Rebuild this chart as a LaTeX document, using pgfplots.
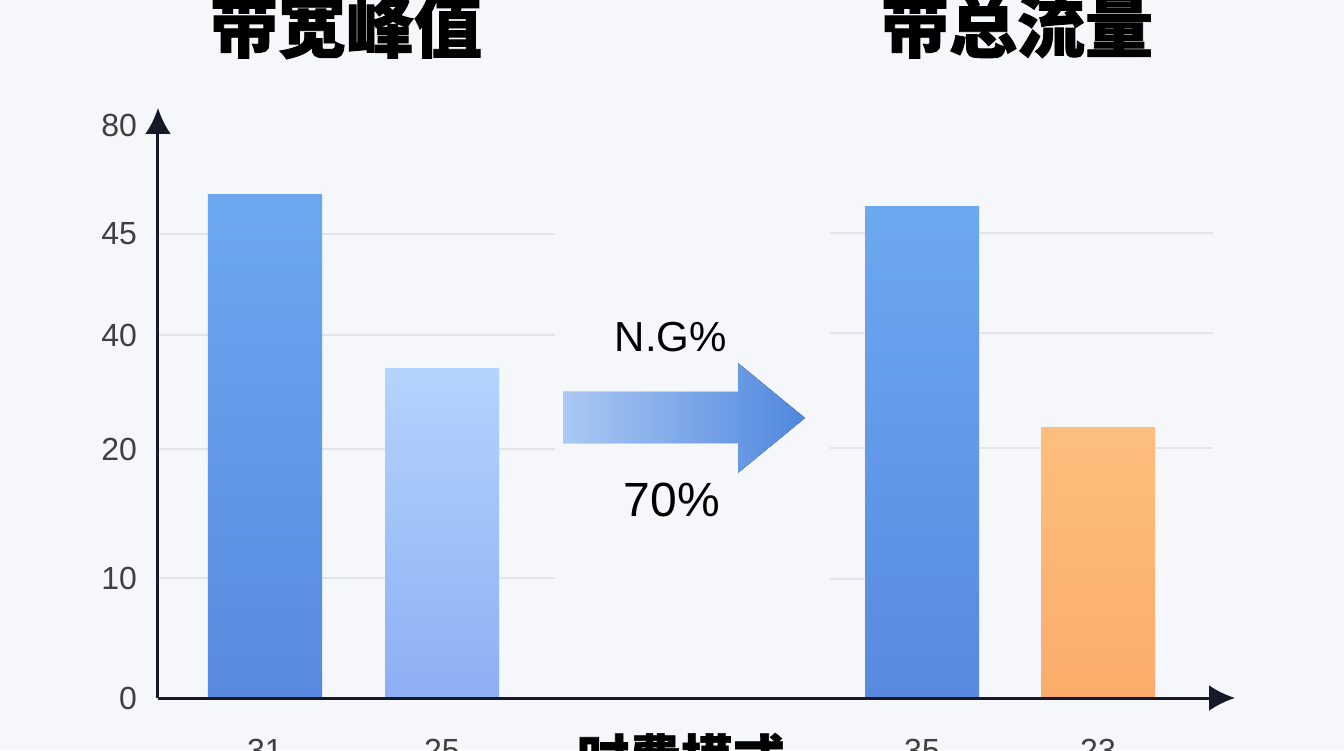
\documentclass[border=0pt]{standalone}
\usepackage{pgfplots}
\pgfplotsset{compat=1.18}
\usepackage{fontspec}
\setmainfont{Liberation Sans}
\newfontfamily\cjk[FakeBold=1.3]{Noto Sans CJK SC}
\usetikzlibrary{arrows.meta}
\pgfdeclarelayer{background}
\pgfsetlayers{background,main}

\definecolor{bgcol}{HTML}{F5F7FA}
\definecolor{axiscol}{HTML}{161A28}
\definecolor{gridcol}{HTML}{E1E4E9}
\definecolor{tickcol}{HTML}{404040}
\definecolor{blueTop}{HTML}{6CA8F0}
\definecolor{blueBot}{HTML}{5889DF}
\definecolor{lightTop}{HTML}{B3D4FC}
\definecolor{lightBot}{HTML}{8DAEF4}
\definecolor{orangeTop}{HTML}{FDBE7D}
\definecolor{orangeBot}{HTML}{FBAC6B}
\definecolor{arrowL}{HTML}{ABC9F3}
\definecolor{arrowR}{HTML}{4F87DE}

\begin{document}
\begin{tikzpicture}
% axis units: 1 unit = 1 px of the reference; y ticks are placed by position
\begin{axis}[
  x=0.5pt, y=0.5pt,
  xmin=158, xmax=1235,
  ymin=0, ymax=590,
  axis lines=left,
  axis on top,
  clip=false,
  axis line style={draw=axiscol, line width=1.5pt, -{Latex[length=13pt,width=13pt]}},
  major tick length=0pt,
  ytick={0,120,249,363,464,573},
  yticklabels={0,10,20,40,45,80},
  xtick={265,442,922,1098},
  xticklabels={31,25,35,23},
  /pgf/number format/assume math mode=true,
  ticklabel style={font=\fontsize{16pt}{16pt}\selectfont, text=tickcol},
  yticklabel style={xshift=-7pt},
  xticklabel style={yshift=-17pt},
  ybar, bar width=57pt, bar shift=0pt,
]
% partial grid lines
\addplot[draw=gridcol, line width=1pt, sharp plot, forget plot] coordinates {(158,120) (555,120)};
\addplot[draw=gridcol, line width=1pt, sharp plot, forget plot] coordinates {(158,249) (555,249)};
\addplot[draw=gridcol, line width=1pt, sharp plot, forget plot] coordinates {(158,363) (555,363)};
\addplot[draw=gridcol, line width=1pt, sharp plot, forget plot] coordinates {(158,464) (555,464)};
\addplot[draw=gridcol, line width=1pt, sharp plot, forget plot] coordinates {(830,119) (866,119)};
\addplot[draw=gridcol, line width=1pt, sharp plot, forget plot] coordinates {(830,250) (1213,250)};
\addplot[draw=gridcol, line width=1pt, sharp plot, forget plot] coordinates {(830,365) (1213,365)};
\addplot[draw=gridcol, line width=1pt, sharp plot, forget plot] coordinates {(830,465) (1213,465)};

% bars
\addplot[draw=none, top color=blueTop, bottom color=blueBot] coordinates {(265,503)};
\addplot[draw=none, top color=lightTop, bottom color=lightBot] coordinates {(442,329)};
\addplot[draw=none, top color=blueTop, bottom color=blueBot] coordinates {(922,491)};
\addplot[draw=none, top color=orangeTop, bottom color=orangeBot] coordinates {(1098,270)};

% arrow between the panels
\fill[left color=arrowL, right color=arrowR]
  (axis cs:563,306) -- (axis cs:738,306) -- (axis cs:738,335) -- (axis cs:805,280)
  -- (axis cs:738,225) -- (axis cs:738,255) -- (axis cs:563,255) -- cycle;
\node[font=\fontsize{21pt}{21pt}\selectfont] at (axis cs:671,361) {N.G\%};
\node[font=\fontsize{24pt}{24pt}\selectfont] at (axis cs:672,198) {70\%};

% titles
\node[font=\cjk\bfseries\fontsize{34pt}{34pt}\selectfont] at (axis cs:346,672) {带宽峰值};
\node[font=\cjk\bfseries\fontsize{34pt}{34pt}\selectfont] at (axis cs:1017,672) {带总流量};
\node[font=\cjk\bfseries\fontsize{26pt}{26pt}\selectfont] at (axis cs:681,-60) {时费模式};

\coordinate (SW) at (axis cs:0,-52);
\coordinate (NE) at (axis cs:1344,698);
\end{axis}
\begin{pgfonlayer}{background}
\fill[bgcol] (SW) rectangle (NE);
\end{pgfonlayer}
\pgfresetboundingbox
\useasboundingbox (SW) rectangle (NE);
\end{tikzpicture}
\end{document}
